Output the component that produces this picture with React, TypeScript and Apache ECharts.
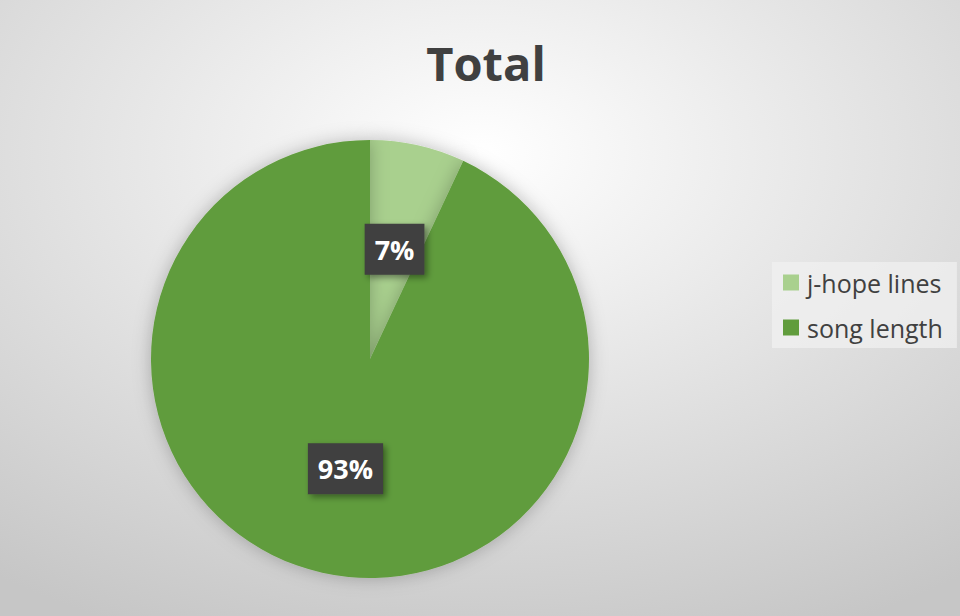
import React, { useEffect, useRef } from "react";
import * as echarts from "echarts";

const categories = ["j-hope lines", "song length"];
const values = [7, 93];
const colors = ["#a9d08e", "#609c3c"];
const titleText = "Total";

export default function App() {
  const ref = useRef<HTMLDivElement>(null);
  useEffect(() => {
    document.body.style.margin = "0";
    const chart = echarts.init(ref.current!, null, { renderer: "svg" });
    chart.setOption({
      animation: false,
      backgroundColor: {
        type: "radial",
        x: 0.5,
        y: 0.25,
        r: 0.85,
        colorStops: [
          { offset: 0, color: "#ffffff" },
          { offset: 1, color: "#c6c6c6" },
        ],
      },
      title: {
        text: titleText,
        left: 481,
        textAlign: "center",
        top: 34,
        textStyle: {
          fontFamily: "Open Sans",
          fontWeight: "bold",
          fontSize: 47,
          color: "#404040",
        },
      },
      legend: {
        orient: "vertical",
        left: 772,
        top: 262,
        padding: [8, 14, 8, 11],
        itemGap: 20,
        itemWidth: 16,
        itemHeight: 16,
        backgroundColor: "rgba(240,240,240,0.75)",
        icon: "rect",
        data: categories,
        textStyle: {
          fontFamily: "Open Sans",
          fontSize: 25,
          color: "#404040",
          padding: [0, 0, 0, 3],
        },
      },
      series: [
        {
          type: "pie",
          center: [370, 359],
          radius: 219,
          startAngle: 90,
          clockwise: true,
          avoidLabelOverlap: false,
          data: categories.map((c, i) => ({
            name: c,
            value: values[i],
            itemStyle: { color: colors[i] },
          })),
          itemStyle: {
            borderWidth: 0,
            shadowBlur: 18,
            shadowColor: "rgba(0,0,0,0.25)",
          },
          label: {
            show: true,
            position: "inside",
            formatter: (p: any) => `${Math.round(p.percent)}%`,
            color: "#ffffff",
            fontFamily: "Open Sans",
            fontWeight: "bold",
            fontSize: 27,
            backgroundColor: "#3f3f3f",
            padding: [12, 10, 12, 10],
            shadowBlur: 6,
            shadowOffsetX: 3,
            shadowOffsetY: 3,
            shadowColor: "rgba(0,0,0,0.4)",
          },
          labelLine: { show: false },
          emphasis: { disabled: true },
        },
      ],
    });
    return () => chart.dispose();
  }, []);
  return <div ref={ref} style={{ width: 960, height: 616 }} />;
}
